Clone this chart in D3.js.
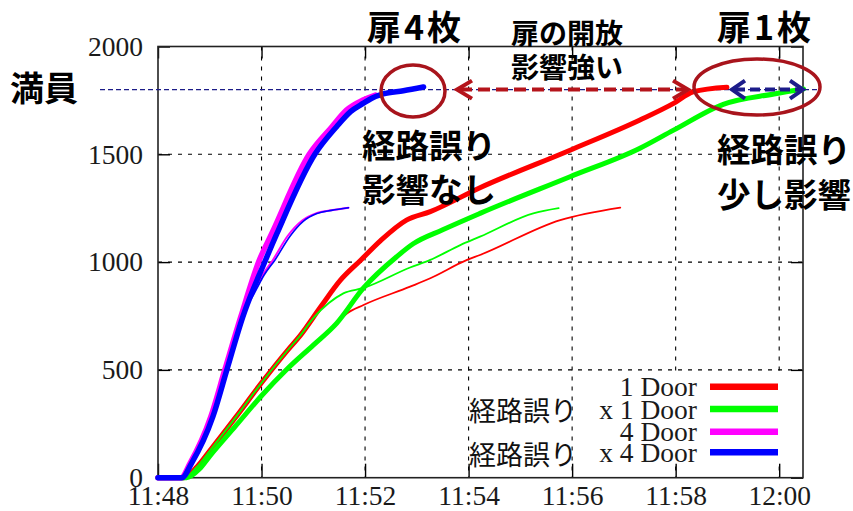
<!DOCTYPE html>
<html>
<head>
<meta charset="utf-8">
<script src="https://cdn.jsdelivr.net/npm/d3@7"></script>
<style>
  html, body { margin: 0; padding: 0; background: #fff; }
  svg { display: block; }
</style>
</head>
<body>
<svg id="chart" width="853" height="511"></svg>
<script>
// Minutes after 11:48 and passenger counts, one array per run.
const door1Thick = [[0,0],[0.5,0],[0.75,50],[1.0,125],[1.5,280],[2.0,440],[2.5,590],[2.75,660],[3.15,795],[3.52,915],[3.92,1010],[4.3,1100],[4.8,1195],[5.26,1234],[6.22,1345],[7.96,1519],[9.31,1659],[9.96,1736],[10.34,1790],[10.99,1811]];
const door1Thin  = [[0,0],[0.55,0],[0.8,40],[1.0,100],[1.5,240],[2.0,380],[2.5,505],[3.0,615],[3.4,705],[3.65,762],[3.97,801],[4.87,886],[5.26,925],[5.97,1010],[6.22,1033],[7.77,1195],[8.93,1253]];
const errDoor1Thick = [[0,0],[0.55,0],[0.8,40],[1.0,100],[1.5,240],[2.0,380],[2.5,505],[3.0,615],[3.45,716],[3.97,880],[4.61,1025],[4.93,1085],[5.5,1150],[6.22,1226],[7.96,1396],[9.31,1528],[9.96,1612],[10.92,1732],[11.9,1780],[12.47,1803]];
const errDoor1Thin  = [[0,0],[0.5,0],[0.75,50],[1.0,125],[1.5,280],[2.0,440],[2.5,590],[2.75,660],[3.0,740],[3.3,810],[3.58,855],[3.97,880],[4.87,975],[5.26,1010],[5.84,1079],[6.22,1118],[7.25,1226],[7.74,1250]];
const door4Thick = [[0,0],[0.44,0],[0.62,68],[1.02,283],[1.29,500],[1.6,747],[1.95,1005],[2.2,1134],[2.92,1500],[3.36,1628],[3.64,1705],[3.96,1752],[4.2,1775]];
const door4Thin  = [[0,0],[0.44,0],[0.62,68],[1.02,283],[1.29,500],[1.59,747],[1.82,850],[2.02,940],[2.22,1010],[2.5,1120],[2.78,1192],[3.05,1226],[3.35,1240],[3.68,1252]];
const errDoor4Thick = [[0,0],[0.46,0],[0.65,68],[1.06,283],[1.33,500],[1.64,747],[2.07,1005],[2.3,1134],[3.03,1500],[3.45,1628],[3.72,1698],[3.97,1737],[4.13,1760],[4.35,1780],[4.74,1795],[5.13,1812]];
const errDoor4Thin  = [[0,0],[0.46,0],[0.64,68],[1.05,283],[1.32,500],[1.62,747],[1.85,850],[2.05,940],[2.26,1010],[2.55,1120],[2.81,1190],[3.07,1225],[3.35,1240],[3.68,1252]];

const xTickValues = [0, 2, 4, 6, 8, 10, 12];
const xTickLabels = ["11:48", "11:50", "11:52", "11:54", "11:56", "11:58", "12:00"];
const yTickValues = [0, 500, 1000, 1500, 2000];
const fullLoad = 1800;

const legendLabels = ["1 Door", "x 1 Door", "4 Door", "x 4 Door"];
const legendColors = ["#ff0000", "#00ff00", "#ff00ff", "#0000ff"];

const svg = d3.select("#chart");
const plot = { left: 158, right: 803, top: 46.5, bottom: 477.7 };

const x = d3.scaleLinear().domain([0, 12.46]).range([plot.left, plot.right]);
const y = d3.scaleLinear().domain([0, 2000]).range([plot.bottom, plot.top]);

const serif = "'Liberation Serif', 'Times New Roman', serif";
const cjk = "'Noto Sans CJK JP', 'Noto Sans CJK SC', sans-serif";
const labelSize = 27.5;

// Dashed grid
const grid = svg.append("g").attr("stroke", "#000").attr("stroke-width", 1.1).attr("stroke-dasharray", "4,6");
grid.selectAll("line.gx").data(xTickValues.filter(d => d > 0)).join("line")
  .attr("x1", d => x(d)).attr("x2", d => x(d)).attr("y1", plot.top).attr("y2", plot.bottom);
grid.selectAll("line.gy").data(yTickValues.filter(d => d > 0 && d < 2000)).join("line")
  .attr("x1", plot.left).attr("x2", plot.right).attr("y1", d => y(d)).attr("y2", d => y(d));

// Axes with inward ticks, mirrored on the opposite edges
const axisBottom = d3.axisBottom(x).tickValues(xTickValues).tickSizeInner(-14).tickSizeOuter(0)
  .tickFormat((d, i) => xTickLabels[i]);
const gx = svg.append("g").attr("transform", `translate(0,${plot.bottom})`).call(axisBottom);
gx.select(".domain").remove();
gx.selectAll("text").attr("font-family", serif).attr("font-size", labelSize).attr("fill", "#1a1a1a")
  .attr("dy", null).attr("y", 27);

const axisLeft = d3.axisLeft(y).tickValues(yTickValues).tickSizeInner(-12).tickSizeOuter(0)
  .tickFormat(d3.format("d")).tickPadding(15);
const gy = svg.append("g").attr("transform", `translate(${plot.left},0)`).call(axisLeft);
gy.select(".domain").remove();
gy.selectAll("text").attr("font-family", serif).attr("font-size", labelSize).attr("fill", "#1a1a1a");

const gTop = svg.append("g").attr("transform", `translate(0,${plot.top})`)
  .call(d3.axisTop(x).tickValues(xTickValues).tickSizeInner(-12).tickSizeOuter(0).tickFormat(""));
gTop.select(".domain").remove();
const gRight = svg.append("g").attr("transform", `translate(${plot.right},0)`)
  .call(d3.axisRight(y).tickValues(yTickValues).tickSizeInner(-12).tickSizeOuter(0).tickFormat(""));
gRight.select(".domain").remove();
svg.selectAll(".tick line").attr("stroke", "#000").attr("stroke-width", 1.4);

// Legend background clears the grid behind the key
svg.append("rect").attr("x", 604).attr("y", 373).attr("width", 194).attr("height", 90).attr("fill", "#fff");

// Frame
svg.append("rect").attr("x", plot.left).attr("y", plot.top)
  .attr("width", plot.right - plot.left).attr("height", plot.bottom - plot.top)
  .attr("fill", "none").attr("stroke", "#222").attr("stroke-width", 1.6);

// Full-load reference line
svg.append("line").attr("x1", 100).attr("x2", 819).attr("y1", y(fullLoad)).attr("y2", y(fullLoad))
  .attr("stroke", "#1c1c88").attr("stroke-width", 1.3).attr("stroke-dasharray", "5,3");

// Series
const line = d3.line().x(d => x(d[0])).y(d => y(d[1])).curve(d3.curveMonotoneX);
const series = [
  { data: door1Thick, color: legendColors[0], w: 5 },
  { data: door1Thin, color: legendColors[0], w: 1.8 },
  { data: errDoor1Thick, color: legendColors[1], w: 5 },
  { data: errDoor1Thin, color: legendColors[1], w: 1.8 },
  { data: door4Thick, color: legendColors[2], w: 5.5 },
  { data: door4Thin, color: legendColors[2], w: 2 },
  { data: errDoor4Thick, color: legendColors[3], w: 5.5 },
  { data: errDoor4Thin, color: legendColors[3], w: 1.6 }
];
svg.append("g").selectAll("path").data(series).join("path")
  .attr("d", d => line(d.data)).attr("fill", "none")
  .attr("stroke", d => d.color).attr("stroke-width", d => d.w)
  .attr("stroke-linejoin", "round").attr("stroke-linecap", "round");

// Legend
const legendRows = [386.7, 409, 431.7, 452.3];
const lg = svg.append("g");
lg.selectAll("text").data(legendLabels).join("text")
  .attr("x", 697).attr("y", (d, i) => legendRows[i]).attr("dy", "0.35em")
  .attr("text-anchor", "end").attr("font-family", serif).attr("font-size", labelSize).attr("fill", "#1a1a1a")
  .text(d => d);
lg.selectAll("line").data(legendColors).join("line")
  .attr("x1", 710).attr("x2", 778).attr("y1", (d, i) => legendRows[i]).attr("y2", (d, i) => legendRows[i])
  .attr("stroke", d => d).attr("stroke-width", 6.5);
[1, 3].forEach(i => {
  svg.append("text").attr("x", 469).attr("y", legendRows[i] + 3).attr("dy", "0.35em")
    .attr("font-family", cjk).attr("font-size", 27).attr("fill", "#111").text("経路誤り");
});

// Annotations
const notes = [
  { t: "満員", x: 10, y: 89, s: 34, ls: 0 },
  { t: "扉4枚", x: 367, y: 28, s: 34, ls: 3 },
  { t: "扉1枚", x: 717, y: 28, s: 34, ls: 3 },
  { t: "扉の開放", x: 511, y: 34, s: 28, ls: 0 },
  { t: "影響強い", x: 511, y: 68, s: 28, ls: 0 },
  { t: "経路誤り", x: 362, y: 146, s: 33.5, ls: 0 },
  { t: "影響なし", x: 362, y: 190, s: 33.5, ls: 0 },
  { t: "経路誤り", x: 717, y: 150, s: 33.5, ls: 0 },
  { t: "少し影響", x: 717, y: 195, s: 33.5, ls: 0 }
];
svg.append("g").selectAll("text").data(notes).join("text")
  .attr("x", d => d.x).attr("y", d => d.y).attr("dy", "0.36em")
  .attr("font-family", cjk).attr("font-weight", 700).attr("font-size", d => d.s)
  .attr("letter-spacing", d => d.ls).attr("fill", "#000")
  .text(d => d.t);

// Highlight ellipses
const ringColor = "#a8141c";
svg.append("ellipse").attr("cx", 413).attr("cy", 91).attr("rx", 32).attr("ry", 26)
  .attr("fill", "none").attr("stroke", ringColor).attr("stroke-width", 3.5);
svg.append("ellipse").attr("cx", 757).attr("cy", 87).attr("rx", 63).attr("ry", 28)
  .attr("fill", "none").attr("stroke", ringColor).attr("stroke-width", 3.5);

// Double-headed dashed arrows along the full-load line
function doubleArrow(x1, x2, color, w, dash, head, half) {
  const yy = y(fullLoad);
  const g = svg.append("g").attr("stroke", color).attr("fill", "none").attr("stroke-width", w);
  g.append("line").attr("x1", x1 + 3).attr("x2", x2 - 3).attr("y1", yy).attr("y2", yy)
    .attr("stroke-dasharray", dash);
  g.append("polyline").attr("points", `${x1 + head},${yy - half} ${x1},${yy} ${x1 + head},${yy + half}`)
    .attr("stroke-linejoin", "miter");
  g.append("polyline").attr("points", `${x2 - head},${yy - half} ${x2},${yy} ${x2 - head},${yy + half}`)
    .attr("stroke-linejoin", "miter");
}
doubleArrow(457, 688, "#b5141b", 4, "12,6", 15, 9);
doubleArrow(732, 803, "#1c1c8a", 4, "10,5", 13, 9);
</script>
</body>
</html>
